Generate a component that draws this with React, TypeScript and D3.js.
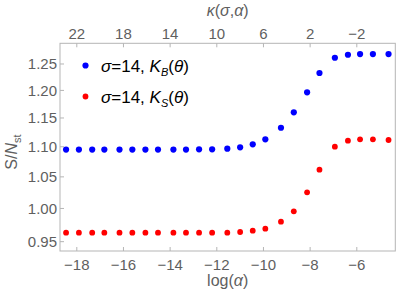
import React from "react";
import * as d3 from "d3";

// log(alpha) positions of the sampled points
const logAlpha = [
  -18.46, -17.91, -17.34, -16.82, -16.17, -15.62, -15.06, -14.52, -13.86, -13.32,
  -12.76, -12.2, -11.55, -11.0, -10.46, -9.92, -9.25, -8.7, -8.13, -7.6,
  -6.94, -6.38, -5.86, -5.31, -4.64,
];

// S/N_st for K_B(theta), sigma = 14
const kB = [
  1.0953, 1.0953, 1.0953, 1.0953, 1.0953, 1.0953, 1.0953, 1.0953, 1.0953, 1.0953,
  1.0956, 1.0956, 1.0967, 1.0991, 1.1042, 1.1127, 1.1328, 1.1601, 1.1965, 1.2327,
  1.2621, 1.268, 1.2693, 1.2693, 1.2693,
];

// S/N_st for K_S(theta), sigma = 14
const kS = [
  0.9633, 0.9633, 0.9633, 0.9633, 0.9633, 0.9633, 0.9633, 0.9633, 0.9633, 0.9633,
  0.9633, 0.9633, 0.9633, 0.9643, 0.9662, 0.9692, 0.9798, 0.9956, 1.0253, 1.0617,
  1.1001, 1.1103, 1.1127, 1.1127, 1.1115,
];

const xTicks = [-18, -16, -14, -12, -10, -8, -6];
const yTicks = [0.95, 1.0, 1.05, 1.1, 1.15, 1.2, 1.25];
const kappaTicks = [22, 18, 14, 10, 6, 2, -2];

const sigma = 14;
const xDomain = [-18.72, -4.35];
const yDomain = [0.9364, 1.2906];

const W = 419;
const H = 297;
const frame = { left: 60, right: 395.3, top: 43.3, bottom: 251 };

const FONT = "'Liberation Sans', Arial, sans-serif";
const TICK_COLOR = "#5f5f5f";
const FRAME_COLOR = "#b5b5b5";

export default function App() {
  const x = d3.scaleLinear().domain(xDomain).range([frame.left, frame.right]);
  // kappa(sigma, alpha) = -2 log(alpha) - sigma
  const kappaOf = (la: number) => -2 * la - sigma;
  const xTop = d3
    .scaleLinear()
    .domain(xDomain.map(kappaOf))
    .range([frame.left, frame.right]);
  const y = d3.scaleLog().domain(yDomain).range([frame.bottom, frame.top]);

  const fmtY = d3.format(".2f");
  const minus = (v: number) => (v < 0 ? "\u2212" + Math.abs(v) : String(v));

  const series = [
    { values: kB, color: "#0000ff", r: 3.1, sub: "B" },
    { values: kS, color: "#ff0000", r: 2.9, sub: "S" },
  ];

  return (
    <svg
      width={W}
      height={H}
      style={{ position: "absolute", left: 0, top: 0, background: "#fff" }}
      fontFamily={FONT}
    >
      {/* frame */}
      <rect
        x={frame.left}
        y={frame.top}
        width={frame.right - frame.left}
        height={frame.bottom - frame.top}
        fill="none"
        stroke={FRAME_COLOR}
        strokeWidth={1}
      />

      {/* bottom ticks */}
      {xTicks.map((t) => (
        <g key={"xb" + t}>
          <line x1={x(t)} x2={x(t)} y1={frame.bottom} y2={frame.bottom - 4} stroke={FRAME_COLOR} />
          <text x={x(t)} y={269.5} textAnchor="middle" fontSize={15} fill={TICK_COLOR}>
            {minus(t)}
          </text>
        </g>
      ))}

      {/* top ticks (kappa) */}
      {kappaTicks.map((t) => (
        <g key={"xt" + t}>
          <line x1={xTop(t)} x2={xTop(t)} y1={frame.top} y2={frame.top + 4} stroke={FRAME_COLOR} />
          <text x={xTop(t)} y={38.5} textAnchor="middle" fontSize={15} fill={TICK_COLOR}>
            {minus(t)}
          </text>
        </g>
      ))}

      {/* left ticks */}
      {yTicks.map((t) => (
        <g key={"y" + t}>
          <line x1={frame.left} x2={frame.left + 4} y1={y(t)} y2={y(t)} stroke={FRAME_COLOR} />
          <text
            x={57}
            y={y(t)}
            dy="0.36em"
            textAnchor="end"
            fontSize={15}
            fill={TICK_COLOR}
          >
            {fmtY(t)}
          </text>
        </g>
      ))}

      {/* axis labels */}
      <text x={(frame.left + frame.right) / 2} y={286} textAnchor="middle" fontSize={16} fill={TICK_COLOR}>
        log(<tspan fontStyle="italic">α</tspan>)
      </text>
      <text x={(frame.left + frame.right) / 2} y={16} textAnchor="middle" fontSize={16} fill={TICK_COLOR}>
        <tspan fontStyle="italic">κ</tspan>(<tspan fontStyle="italic">σ</tspan>,<tspan fontStyle="italic">α</tspan>)
      </text>
      <text
        transform="translate(17,152) rotate(-90)"
        textAnchor="middle"
        fontSize={16}
        fill={TICK_COLOR}
      >
        S/<tspan fontStyle="italic">N</tspan>
        <tspan fontSize={11} dy={4}>st</tspan>
      </text>

      {/* points */}
      {series.map((s) =>
        s.values.map((v, i) => (
          <circle key={s.sub + i} cx={x(logAlpha[i])} cy={y(v)} r={s.r} fill={s.color} />
        ))
      )}

      {/* legend */}
      {series.map((s, i) => {
        const ly = 65.5 + i * 31;
        return (
          <g key={"leg" + s.sub}>
            <circle cx={85.5} cy={ly} r={s.r} fill={s.color} />
            <text x={101} y={ly + 6} fontSize={17} fill="#000">
              <tspan fontStyle="italic">σ</tspan>=14, <tspan fontStyle="italic">K</tspan>
              <tspan fontStyle="italic" fontSize={11} dy={4}>
                {s.sub}
              </tspan>
              <tspan dy={-4}>(</tspan>
              <tspan fontStyle="italic">θ</tspan>)
            </text>
          </g>
        );
      })}
    </svg>
  );
}
